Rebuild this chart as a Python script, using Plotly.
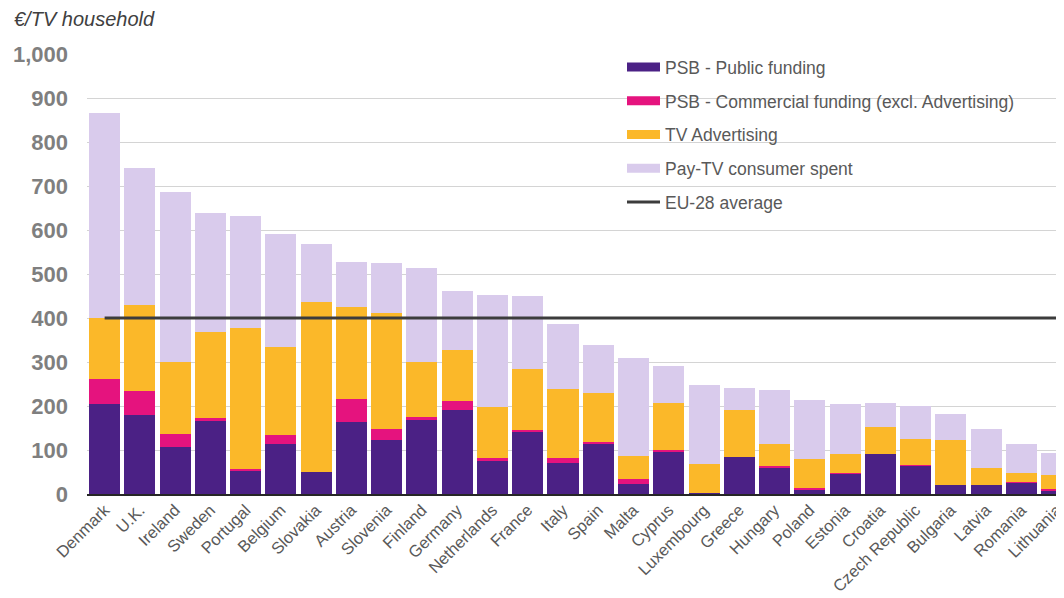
import plotly.graph_objects as go

countries = ["Denmark", "U.K.", "Ireland", "Sweden", "Portugal", "Belgium", "Slovakia",
             "Austria", "Slovenia", "Finland", "Germany", "Netherlands", "France", "Italy",
             "Spain", "Malta", "Cyprus", "Luxembourg", "Greece", "Hungary", "Poland",
             "Estonia", "Croatia", "Czech Republic", "Bulgaria", "Latvia", "Romania", "Lithuania"]

psb_public = [205, 180, 107, 168, 53, 114, 51, 163, 123, 168, 191, 76, 140, 71,
              115, 23, 96, 2, 83, 58, 8, 47, 92, 64, 20, 20, 27, 9]
psb_commercial = [57, 54, 29, 4, 4, 19, 0, 54, 24, 6, 20, 5, 5, 11,
                  4, 11, 4, 0, 0, 5, 5, 1, 0, 3, 0, 0, 1, 3]
tv_advertising = [138, 196, 164, 197, 321, 200, 386, 208, 264, 126, 117, 117, 139, 157,
                  111, 52, 106, 66, 109, 51, 66, 43, 60, 59, 103, 38, 20, 31]
paytv_spent = [465, 311, 386, 270, 254, 259, 131, 103, 115, 214, 134, 254, 166, 147,
               108, 223, 85, 180, 49, 122, 134, 114, 54, 74, 59, 89, 66, 51]
eu28_average = 400

y_ticks = [0, 100, 200, 300, 400, 500, 600, 700, 800, 900, 1000]

series = [
    ("PSB - Public funding", psb_public, "#4B2185"),
    ("PSB - Commercial funding (excl. Advertising)", psb_commercial, "#E5137E"),
    ("TV Advertising", tv_advertising, "#FBB829"),
    ("Pay-TV consumer spent", paytv_spent, "#D9CBEC"),
]

fig = go.Figure()
for name, vals, col in series:
    fig.add_trace(go.Bar(x=countries, y=vals, name=name, marker=dict(color=col, line=dict(width=0)),
                         showlegend=False))

fig.add_trace(go.Scatter(x=countries, y=[eu28_average] * len(countries), mode="lines",
                         line=dict(color="#3c3c3c", width=3), showlegend=False, name="EU-28 average"))

# legend entries (wide colour patches)
for i, (name, vals, col) in enumerate(series):
    fig.add_trace(go.Scatter(x=[None], y=[None], mode="lines", name=name,
                             line=dict(color=col, width=9), legendgroup=f"g{i}"))
fig.add_trace(go.Scatter(x=[None], y=[None], mode="lines", name="EU-28 average",
                         line=dict(color="#3c3c3c", width=3), legendgroup="g4"))

# white panel behind legend hiding gridlines
fig.add_shape(type="rect", xref="paper", yref="y", x0=0.441, x1=1.0, y0=650, y1=1015,
              fillcolor="white", line=dict(width=0), layer="between")

fig.add_annotation(text="<i>€/TV household</i>", xref="paper", yref="paper",
                   x=(12 - 87) / 977, y=(494 - 19) / 440, xanchor="left", yanchor="middle",
                   showarrow=False, font=dict(size=20, color="#404040"))

# page body adds an 8px offset, so the figure is sized to fill the rest of the window
fig.update_layout(
    width=1056, height=590,
    margin=dict(l=79, r=0, t=46, b=104, autoexpand=False),
    paper_bgcolor="white", plot_bgcolor="white",
    barmode="stack", bargap=0.12,
    font=dict(family="Liberation Sans, Arial, sans-serif"),
    legend=dict(x=(622 - 87) / 977, xanchor="left", y=1.011, yanchor="top", bgcolor="rgba(0,0,0,0)",
                font=dict(size=17.5, color="#595959"), tracegroupgap=8,
                traceorder="grouped", itemwidth=33),
    xaxis=dict(range=[-0.5, 27.21], tickangle=-45, tickfont=dict(size=16.5, color="#595959"),
               showline=True, linecolor="#262626", linewidth=2, showgrid=False, ticks="",
               automargin=False, ticklabelstandoff=-2),
    yaxis=dict(range=[0, 1000], tickvals=y_ticks, tickformat=",", showgrid=True,
               gridcolor="#d4d4d4", gridwidth=1, zeroline=False, automargin=False,
               tickfont=dict(size=22, color="#7f7f7f", weight="bold"), ticklabelstandoff=18),
)

fig.write_html("out.html")
